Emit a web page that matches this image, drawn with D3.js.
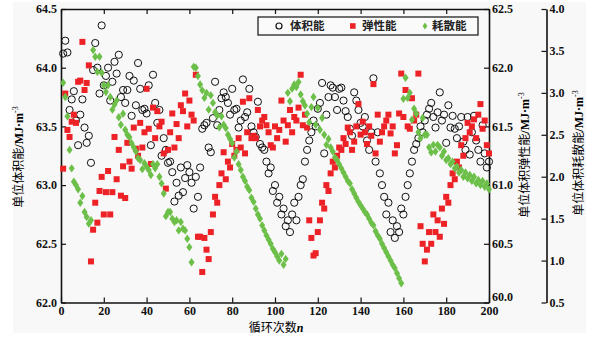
<!DOCTYPE html>
<html>
<head>
<meta charset="utf-8">
<script src="https://cdn.jsdelivr.net/npm/d3@7"></script>
<style>
  body { margin: 0; background: #ffffff; }
  svg { display: block; }
</style>
</head>
<body>
<svg id="chart" width="606" height="339"></svg>
<script>
// Energy per unit volume over loading cycles 1..200 (MJ·m^-3)
const volumetric = [
  64.12, 64.23, 64.13, 63.64, 63.73, 63.80, 63.55, 63.34, 63.60, 63.73,
  63.49, 63.36, 63.42, 63.19, 63.98, 64.21, 64.00, 63.78, 64.36, 63.85,
  63.93, 64.00, 63.72, 63.88, 64.05, 63.95, 64.11, 63.75, 63.81, 63.70,
  63.81, 63.93, 63.59, 63.89, 63.68, 64.04, 63.82, 63.64, 63.65, 63.61,
  63.85, 63.34, 63.94, 63.70, 63.53, 63.64, 63.25, 63.40, 63.30, 63.19,
  63.20, 63.11, 62.86, 63.02, 62.91, 63.15, 62.94, 63.06, 63.17, 63.11,
  63.02, 62.80, 63.07, 62.90, 63.15, 63.48, 63.51, 63.53, 63.32, 63.28,
  63.57, 63.88, 63.51, 63.64, 63.74, 63.79, 63.75, 63.70, 63.60, 63.82,
  63.64, 63.65, 63.49, 63.55, 63.90, 63.58, 63.62, 63.82, 63.50, 63.45,
  63.41, 63.71, 63.35, 63.32, 63.30, 63.20, 63.10, 63.15, 62.95, 63.00,
  62.85, 62.90, 62.75, 62.80, 62.65, 62.70, 62.60, 62.75, 62.85, 62.70,
  62.90, 63.00, 63.05, 63.20, 63.30, 63.38, 63.45, 63.55, 63.50, 63.65,
  63.70, 63.87, 63.27, 63.60, 63.75, 63.85, 63.83, 63.75, 63.64, 63.82,
  63.83, 63.72, 63.63, 63.58, 63.48, 63.42, 63.79, 63.72, 63.64, 63.53,
  63.50, 63.58, 63.38, 63.30, 63.45, 63.91, 63.20, 63.45, 63.10, 63.00,
  62.90, 62.75, 62.85, 62.60, 62.70, 62.55, 62.65, 62.60, 62.80, 62.75,
  62.90, 63.00, 63.10, 63.20, 63.30, 63.35, 63.40, 63.50, 63.45, 63.55,
  63.60, 63.65, 63.70, 63.58, 63.49, 63.62, 63.79, 63.55, 63.60, 63.36,
  63.68, 63.49, 63.59, 63.48, 63.40, 63.50, 63.58, 63.37, 63.30, 63.58,
  63.26, 63.45, 63.59, 63.38, 63.30, 63.20, 63.51, 63.27, 63.15, 63.20
];

const elastic = [
  61.14, 61.78, 61.47, 61.41, 61.54, 61.60, 61.53, 61.88, 61.89, 62.22,
  61.81, 61.87, 62.02, 60.35, 60.62, 60.85, 60.68, 60.95, 61.07, 60.75,
  60.94, 61.12, 60.75, 60.94, 61.41, 61.05, 61.30, 60.91, 61.16, 60.89,
  61.36, 61.20, 61.14, 61.49, 61.31, 61.25, 61.53, 61.32, 61.45, 61.82,
  61.48, 61.18, 61.66, 61.40, 61.63, 61.50, 61.54, 61.27, 60.97, 61.30,
  61.45, 61.61, 61.32, 61.52, 61.40, 61.68, 61.63, 61.78, 61.50, 61.72,
  61.60, 61.55, 61.94, 60.56, 60.56, 60.26, 60.55, 60.45, 60.37, 60.60,
  60.75, 60.90, 60.85, 61.00, 61.10, 61.28, 61.05, 61.20, 61.15, 61.35,
  61.25, 61.30, 61.40, 61.32, 61.71, 61.27, 61.45, 61.74, 61.40, 61.42,
  61.40, 61.64, 61.50, 61.55, 61.58, 61.51, 61.45, 61.34, 61.32, 61.50,
  61.40, 61.47, 61.72, 61.55, 61.37, 61.51, 61.64, 61.45, 61.58, 61.55,
  61.66, 61.94, 61.51, 61.60, 61.49, 60.70, 60.55, 60.40, 60.42, 60.60,
  60.70, 60.85, 60.80, 61.00, 60.95, 61.10, 61.20, 61.15, 61.25, 61.32,
  61.30, 61.40, 61.35, 61.49, 61.45, 61.30, 61.37, 61.50, 61.69, 61.43,
  61.54, 61.45, 61.35, 61.50, 61.42, 61.86, 61.27, 61.60, 61.37, 61.45,
  61.50, 61.55, 61.60, 61.44, 61.50, 61.27, 61.34, 61.61, 61.95, 61.58,
  61.81, 61.50, 61.48, 61.74, 61.55, 61.60, 61.95, 60.65, 60.50, 60.35,
  60.45, 60.60, 60.50, 60.75, 60.60, 60.70, 60.56, 60.80, 60.67, 60.90,
  60.85, 61.00, 61.10, 61.05, 61.20, 61.15, 61.34, 61.25, 61.40, 61.53,
  61.45, 61.50, 61.56, 61.40, 61.60, 61.69, 61.48, 61.55, 61.34, 61.27
];

const dissipated = [
  3.12, 2.95, 2.72, 2.32, 2.10, 1.94, 1.90, 1.85, 1.69, 1.77,
  1.58, 1.52, 1.44, 1.48, 3.51, 3.43, 3.25, 3.43, 3.24, 3.09,
  3.01, 3.09, 2.95, 2.80, 2.86, 2.91, 2.71, 2.62, 2.75, 2.56,
  2.50, 2.47, 2.40, 2.35, 2.30, 2.22, 2.20, 2.09, 2.16, 2.12,
  2.08, 2.02, 2.15, 2.10, 2.15, 2.00, 1.92, 1.80, 1.53, 1.58,
  1.58, 1.50, 1.46, 1.48, 1.36, 1.46, 1.38, 1.36, 1.26, 1.16,
  0.98, 3.31, 3.30, 3.20, 3.10, 3.03, 2.94, 3.00, 2.80, 2.97,
  2.88, 2.77, 2.73, 2.59, 2.72, 2.62, 2.58, 2.50, 2.45, 2.40,
  2.23, 2.30, 2.15, 2.08, 2.00, 1.95, 1.88, 1.84, 1.75, 1.70,
  1.62, 1.55, 1.50, 1.42, 1.36, 1.30, 1.25, 1.20, 1.14, 1.10,
  1.05, 1.00, 1.08, 0.95, 1.02, 3.00, 2.90, 3.05, 3.10, 3.07,
  3.13, 2.98, 2.90, 2.85, 2.75, 2.65, 2.83, 2.95, 2.62, 2.82,
  2.56, 2.70, 2.50, 2.38, 2.45, 2.35, 2.30, 2.23, 2.20, 2.15,
  2.10, 2.05, 2.00, 1.95, 1.92, 1.85, 1.80, 1.75, 1.70, 1.66,
  1.62, 1.58, 1.55, 1.50, 1.45, 1.42, 1.35, 1.30, 1.26, 1.20,
  1.15, 1.10, 1.05, 1.00, 0.95, 0.91, 0.85, 0.79, 0.73, 2.93,
  3.18, 2.94, 3.00, 2.68, 2.81, 2.75, 2.53, 2.46, 2.70, 2.50,
  2.50, 2.35, 2.29, 2.38, 2.30, 2.38, 2.35, 2.25, 2.30, 2.20,
  2.22, 2.15, 2.18, 2.10, 2.12, 2.05, 2.08, 2.00, 2.05, 1.98,
  2.02, 1.95, 2.00, 1.92, 1.96, 1.90, 1.95, 1.88, 1.92, 1.85
];

const cycles = volumetric.map((_, i) => i + 1);

const xTicks = [0, 20, 40, 60, 80, 100, 120, 140, 160, 180, 200];
const volumeTicks = [62.0, 62.5, 63.0, 63.5, 64.0, 64.5];
const elasticTicks = [60.0, 60.5, 61.0, 61.5, 62.0, 62.5];
const dissipatedTicks = [0.5, 1.0, 1.5, 2.0, 2.5, 3.0, 3.5, 4.0];
const seriesNames = ["体积能", "弹性能", "耗散能"];

const COLORS = { volume: "#111111", elastic: "#ec2227", dissipated: "#6cbf48" };
const NUM_FONT = "'Liberation Serif', 'Times New Roman', serif";
const CJK_FONT = "'Noto Sans CJK SC', sans-serif";

const svg = d3.select("#chart");

// panel background
svg.append("rect").attr("x", 13).attr("y", 2).attr("width", 573).attr("height", 331)
  .attr("fill", "#f8f8f8");

const plot = { left: 61, right: 489, top: 9, bottom: 302.5 };
const outerAxisX = 546.5;

const x = d3.scaleLinear().domain([0, 200]).range([plot.left, plot.right]);
const yV = d3.scaleLinear().domain([62.0, 64.5]).range([plot.bottom, plot.top]);
const yE = d3.scaleLinear().domain([60.0, 62.5]).range([plot.bottom, plot.top]);
const yD = d3.scaleLinear().domain([0.5, 4.0]).range([plot.bottom, plot.top]);

function styleAxis(g) {
  g.select(".domain").attr("stroke", "#111").attr("stroke-width", 1.6);
  g.selectAll(".tick line").attr("stroke", "#111").attr("stroke-width", 1.2);
  g.selectAll(".tick text")
    .attr("fill", "#111")
    .style("font-family", NUM_FONT)
    .style("font-weight", "bold")
    .style("font-size", "12px");
  return g;
}

// bottom axis, ticks pointing inward
const xAxisG = svg.append("g").attr("transform", `translate(0,${plot.bottom})`)
  .call(d3.axisBottom(x).tickValues(xTicks).tickSizeInner(-5).tickSizeOuter(0).tickPadding(4)
    .tickFormat(d3.format("d")));
styleAxis(xAxisG);

// top axis, ticks only
const topG = svg.append("g").attr("transform", `translate(0,${plot.top})`)
  .call(d3.axisTop(x).tickValues(xTicks).tickSizeInner(-5).tickSizeOuter(0).tickFormat(""));
styleAxis(topG);

// left axis: volumetric energy
const leftG = svg.append("g").attr("transform", `translate(${plot.left},0)`)
  .call(d3.axisLeft(yV).tickValues(volumeTicks).tickSizeInner(-5).tickSizeOuter(0).tickPadding(4)
    .tickFormat(d3.format(".1f")));
styleAxis(leftG);

// inner right axis: elastic energy
const rightG = svg.append("g").attr("transform", `translate(${plot.right},0)`)
  .call(d3.axisRight(yE).tickValues(elasticTicks).tickSizeInner(-5).tickSizeOuter(0).tickPadding(3)
    .tickFormat(d3.format(".1f")));
styleAxis(rightG);
// lift the bottom label so it clears the "200" below it
rightG.selectAll(".tick").filter((d) => d === 60.0).select("text").attr("dy", "-0.15em");

// outer right axis: dissipated energy, ticks on the left side of the line
const outerG = svg.append("g").attr("transform", `translate(${outerAxisX},0)`)
  .call(d3.axisRight(yD).tickValues(dissipatedTicks).tickSizeInner(-5).tickSizeOuter(0).tickPadding(3)
    .tickFormat(d3.format(".1f")));
styleAxis(outerG);

// data marks
const marks = svg.append("g");

marks.selectAll("circle.vol").data(cycles).join("circle")
  .attr("class", "vol")
  .attr("cx", (c) => x(c))
  .attr("cy", (c, i) => yV(volumetric[i]))
  .attr("r", 3.6)
  .attr("fill", "none")
  .attr("stroke", COLORS.volume)
  .attr("stroke-width", 1);

marks.selectAll("rect.ela").data(cycles).join("rect")
  .attr("class", "ela")
  .attr("x", (c) => x(c) - 3)
  .attr("y", (c, i) => yE(elastic[i]) - 3)
  .attr("width", 6)
  .attr("height", 6)
  .attr("fill", COLORS.elastic);

const diamond = "M0,-4.2L3,0L0,4.2L-3,0Z";
marks.selectAll("path.dis").data(cycles).join("path")
  .attr("class", "dis")
  .attr("d", diamond)
  .attr("transform", (c, i) => `translate(${x(c)},${yD(dissipated[i])})`)
  .attr("fill", COLORS.dissipated);

// legend
const legend = svg.append("g");
legend.append("rect").attr("x", 258).attr("y", 17).attr("width", 220).attr("height", 18)
  .attr("fill", "#fafafa").attr("stroke", "#111").attr("stroke-width", 1.2);
const legendY = 26;
legend.append("circle").attr("cx", 279).attr("cy", legendY).attr("r", 3)
  .attr("fill", "none").attr("stroke", "#111").attr("stroke-width", 1.2);
legend.append("rect").attr("x", 350).attr("y", legendY - 2.8).attr("width", 5.6).attr("height", 5.6)
  .attr("fill", COLORS.elastic);
legend.append("path").attr("d", "M0,-3.4L2.4,0L0,3.4L-2.4,0Z")
  .attr("transform", `translate(425,${legendY})`).attr("fill", COLORS.dissipated);
const legendX = [290, 362, 432];
seriesNames.forEach((name, i) => {
  legend.append("text").attr("x", legendX[i]).attr("y", legendY + 4.2)
    .text(name)
    .style("font-family", CJK_FONT).style("font-size", "11.5px").style("font-weight", "bold")
    .attr("fill", "#222");
});

// axis titles
function unitTitle(cx, cy, label) {
  const t = svg.append("text")
    .attr("transform", `translate(${cx},${cy}) rotate(-90)`)
    .attr("text-anchor", "middle")
    .attr("fill", "#000")
    .style("font-size", "12px");
  t.append("tspan").text(label).attr("fill", "#000").style("font-family", CJK_FONT);
  t.append("tspan").text("/MJ·m").attr("fill", "#000")
    .style("font-family", NUM_FONT).style("font-weight", "bold");
  t.append("tspan").text("-3").attr("dy", -5).attr("fill", "#000")
    .style("font-family", NUM_FONT).style("font-size", "8px");
}
unitTitle(23, 157, "单位体积能");
unitTitle(529, 155, "单位体积弹性能");
unitTitle(583, 153, "单位体积耗散能");

const xt = svg.append("text").attr("x", 276).attr("y", 332).attr("text-anchor", "middle")
  .attr("fill", "#000").style("font-size", "12px");
xt.append("tspan").text("循环次数").attr("fill", "#000").style("font-family", CJK_FONT);
xt.append("tspan").text("n").attr("fill", "#000").style("font-family", NUM_FONT)
  .style("font-style", "italic").style("font-weight", "bold");
</script>
</body>
</html>
